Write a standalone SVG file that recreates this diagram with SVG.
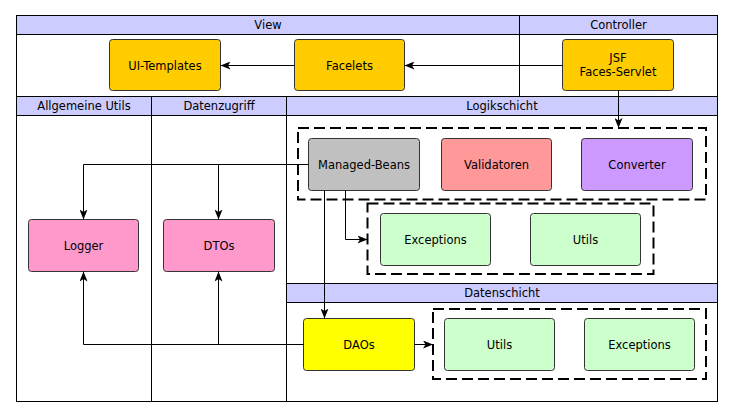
<svg xmlns="http://www.w3.org/2000/svg" width="732" height="418" viewBox="0 0 732 418">
<defs>
<style>
text{font-family:"DejaVu Sans","Liberation Sans",sans-serif;font-size:11.5px;fill:#000;text-anchor:middle}
.hdr{fill:#ccccff;stroke:#000;stroke-width:1}
.body{fill:#fff;stroke:#000;stroke-width:1}
.node{stroke:#333;stroke-width:1}
.grp{fill:none;stroke:#000;stroke-width:2;stroke-dasharray:11 5}
.edge{fill:none;stroke:#000;stroke-width:1;marker-end:url(#arr)}
</style>
<marker id="arr" markerUnits="userSpaceOnUse" markerWidth="11" markerHeight="8" refX="10" refY="4" orient="auto">
<path d="M0,0 L10,4 L0,8 L2.5,4 Z" fill="#000"/>
</marker>
</defs>
<rect x="0" y="0" width="732" height="418" fill="#fff"/>
<g id="lanes">
<rect class="body" x="16.5" y="34.5" width="503" height="62"/>
<rect class="hdr" x="16.5" y="15.5" width="503" height="19"/>
<text x="268" y="29">View</text>
<rect class="body" x="519.5" y="34.5" width="198" height="62"/>
<rect class="hdr" x="519.5" y="15.5" width="198" height="19"/>
<text x="618.5" y="29">Controller</text>
<rect class="body" x="16.5" y="115.5" width="135" height="286"/>
<rect class="hdr" x="16.5" y="96.5" width="135" height="19"/>
<text x="84" y="110">Allgemeine Utils</text>
<rect class="body" x="151.5" y="115.5" width="135" height="286"/>
<rect class="hdr" x="151.5" y="96.5" width="135" height="19"/>
<text x="219" y="110">Datenzugriff</text>
<rect class="body" x="286.5" y="115.5" width="431" height="168"/>
<rect class="hdr" x="286.5" y="96.5" width="431" height="19"/>
<text x="502" y="110">Logikschicht</text>
<rect class="body" x="286.5" y="302.5" width="431" height="99"/>
<rect class="hdr" x="286.5" y="283.5" width="431" height="19"/>
<text x="502" y="297">Datenschicht</text>
</g>
<g id="groups">
<rect class="grp" x="298" y="128" width="408" height="71.5"/>
<rect class="grp" x="367.5" y="203.5" width="286" height="70.5"/>
<rect class="grp" x="433" y="309" width="273" height="70"/>
</g>
<g id="ui-templates"><rect class="node" x="109.5" y="39.5" width="111" height="51" rx="3" fill="#ffcc00"/><text x="165" y="69.5">UI-Templates</text></g>
<g id="facelets"><rect class="node" x="294.5" y="39.5" width="110" height="51" rx="3" fill="#ffcc00"/><text x="349.5" y="69.5">Facelets</text></g>
<g id="jsf"><rect class="node" x="562.5" y="39.5" width="111" height="51" rx="3" fill="#ffcc00"/><text x="618" y="62">JSF</text><text x="618" y="76">Faces-Servlet</text></g>
<g id="managed-beans"><rect class="node" x="308.5" y="138.5" width="111" height="52" rx="3" fill="#c0c0c0"/><text x="364" y="168.5">Managed-Beans</text></g>
<g id="validatoren"><rect class="node" x="441.5" y="138.5" width="110" height="52" rx="3" fill="#ff9999"/><text x="496.5" y="168.5">Validatoren</text></g>
<g id="converter"><rect class="node" x="581.5" y="138.5" width="111" height="52" rx="3" fill="#cc99ff"/><text x="637" y="168.5">Converter</text></g>
<g id="exceptions-logik"><rect class="node" x="380.5" y="213.5" width="110" height="52" rx="3" fill="#ccffcc"/><text x="435.5" y="243.5">Exceptions</text></g>
<g id="utils-logik"><rect class="node" x="530.5" y="213.5" width="110" height="52" rx="3" fill="#ccffcc"/><text x="585.5" y="243.5">Utils</text></g>
<g id="logger"><rect class="node" x="28.5" y="219.5" width="110" height="52" rx="3" fill="#ff99cc"/><text x="83.5" y="249.5">Logger</text></g>
<g id="dtos"><rect class="node" x="163.5" y="219.5" width="111" height="52" rx="3" fill="#ff99cc"/><text x="219" y="249.5">DTOs</text></g>
<g id="daos"><rect class="node" x="303.5" y="318.5" width="111" height="52" rx="3" fill="#ffff00"/><text x="359" y="348.5">DAOs</text></g>
<g id="utils-daten"><rect class="node" x="444.5" y="318.5" width="110" height="52" rx="3" fill="#ccffcc"/><text x="499.5" y="348.5">Utils</text></g>
<g id="exceptions-daten"><rect class="node" x="584.5" y="318.5" width="110" height="52" rx="3" fill="#ccffcc"/><text x="639.5" y="348.5">Exceptions</text></g>
<g id="connectors">
<path class="edge" d="M294.5,65.5 L220.5,65.5"/>
<path class="edge" d="M562.5,65.5 L404.5,65.5"/>
<path class="edge" d="M618.5,90.5 L618.5,128"/>
<path class="edge" d="M308.5,164.5 L83.5,164.5 L83.5,219.5"/>
<path class="edge" d="M308.5,164.5 L218.5,164.5 L218.5,219.5"/>
<path class="edge" d="M324.5,190.5 L324.5,318.5"/>
<path class="edge" d="M345.5,190.5 L345.5,239.5 L367.5,239.5"/>
<path class="edge" d="M414.5,344.5 L433,344.5"/>
<path class="edge" d="M303.5,344.5 L83.5,344.5 L83.5,271.5"/>
<path class="edge" d="M303.5,344.5 L218.5,344.5 L218.5,271.5"/>
</g>
</svg>
